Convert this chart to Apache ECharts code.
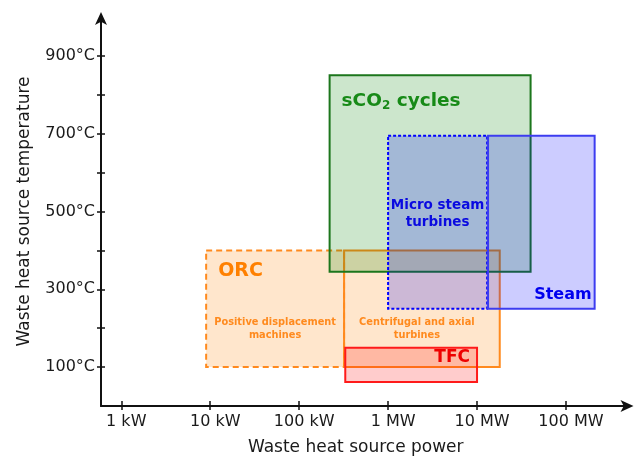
<!DOCTYPE html>
<html>
<head>
<meta charset="utf-8">
<script src="https://cdn.jsdelivr.net/npm/echarts@6/dist/echarts.min.js"></script>
<style>
  html, body { margin: 0; padding: 0; background: #fff; }
  #chart { width: 638px; height: 456px; }
</style>
</head>
<body>
<div id="chart"></div>
<script>
// operating windows: power in kW, temperature in °C
const technologies = ['ORC (positive displacement)', 'ORC (turbines)', 'sCO2 cycles', 'Micro steam turbines', 'Steam', 'TFC'];
const powerMin = [9, 320, 220, 1000, 13300, 330];
const powerMax = [320, 18000, 40000, 13000, 210000, 10000];
const tempMin = [100, 100, 345, 250, 250, 62];
const tempMax = [400, 400, 850, 695, 695, 150];

const xTickPowers = [1, 10, 100, 1000, 10000, 100000];
const xTickLabels = ['1 kW', '10 kW', '100 kW', '1 MW', '10 MW', '100 MW'];
const yTickValues = [100, 200, 300, 400, 500, 600, 700, 800, 900];
const yLabelValues = [100, 300, 500, 700, 900];

const FONT = "'DejaVu Sans', Verdana, sans-serif";
const AXIS_COLOR = '#111';
const TEXT_COLOR = '#1a1a1a';

const ORANGE = '#ff8a1e';
const boxStyles = [
  { fill: 'rgba(255,128,0,0.2)', stroke: ORANGE, dash: [6, 4] },
  { fill: 'rgba(255,128,0,0.2)', stroke: ORANGE },
  { fill: 'rgba(0,128,0,0.2)', stroke: '#1c761c' },
  { fill: 'rgba(0,0,255,0.2)', stroke: '#0000ff', dash: [3, 2] },
  { fill: 'rgba(0,0,255,0.2)', stroke: '#3c3cf0' },
  { fill: 'rgba(255,0,0,0.2)', stroke: '#ff1a1a' },
];

// labels placed relative to their box (anchor + pixel offset)
const boxLabels = [
  [
    { text: 'ORC', anchor: 'tl', dx: 12, dy: 21, size: 19, color: '#ff8000' },
    { text: 'Positive displacement\nmachines', anchor: 'c', dx: 0, dy: 20, size: 9.8, lh: 12.5, color: ORANGE },
  ],
  [{ text: 'Centrifugal and axial\nturbines', anchor: 'c', dx: -5, dy: 20, size: 9.8, lh: 12.5, color: ORANGE }],
  [{ text: '{a|sCO}{b|2}{a| cycles}', anchor: 'tl', dx: 12, dy: 26, size: 18.5, color: '#178a17', sub: true }],
  [{ text: 'Micro steam\nturbines', anchor: 'c', dx: 0, dy: -8, size: 13.5, lh: 17, color: '#0a0ae0' }],
  [{ text: 'Steam', anchor: 'br', dx: -3, dy: -14, size: 16, color: '#0000ee' }],
  [{ text: 'TFC', anchor: 'r', dx: -7, dy: -7, size: 17, color: '#ee0000' }],
];

const boxData = technologies.map((name, i) => ({
  name,
  value: [Math.log10(powerMin[i]), Math.log10(powerMax[i]), tempMin[i], tempMax[i]],
}));

function boxRect(api) {
  const p0 = api.coord([api.value(0), api.value(3)]);
  const p1 = api.coord([api.value(1), api.value(2)]);
  return { x: p0[0], y: p0[1], w: p1[0] - p0[0], h: p1[1] - p0[1] };
}

function renderBox(params, api) {
  const r = boxRect(api);
  const s = boxStyles[params.dataIndex];
  return {
    type: 'rect',
    shape: { x: r.x, y: r.y, width: r.w, height: r.h },
    style: { fill: s.fill, stroke: s.stroke, lineWidth: 2, lineDash: s.dash || null },
  };
}

function renderLabels(params, api) {
  const r = boxRect(api);
  const children = boxLabels[params.dataIndex].map(l => {
    let x, y, align;
    if (l.anchor === 'tl') { x = r.x + l.dx; y = r.y + l.dy; align = 'left'; }
    else if (l.anchor === 'c') { x = r.x + r.w / 2 + l.dx; y = r.y + r.h / 2 + l.dy; align = 'center'; }
    else if (l.anchor === 'br') { x = r.x + r.w + l.dx; y = r.y + r.h + l.dy; align = 'right'; }
    else { x = r.x + r.w + l.dx; y = r.y + r.h / 2 + l.dy; align = 'right'; }
    const style = {
      text: l.text,
      x, y,
      fill: l.color,
      font: `bold ${l.size}px ${FONT}`,
      align, textAlign: align,
      verticalAlign: 'middle', textVerticalAlign: 'middle',
      lineHeight: l.lh || l.size + 3,
    };
    if (l.sub) {
      style.rich = {
        a: { fill: l.color, fontSize: l.size, fontWeight: 'bold', fontFamily: FONT, lineHeight: 22 },
        b: { fill: l.color, fontSize: 12, fontWeight: 'bold', fontFamily: FONT, lineHeight: 12, verticalAlign: 'bottom' },
      };
    }
    return { type: 'text', style };
  });
  return { type: 'group', children };
}

const xMin = -0.228, xMax = 5.703;

const chart = echarts.init(document.getElementById('chart'));
chart.setOption({
  animation: false,
  backgroundColor: '#fff',
  grid: { left: 101, right: 9.5, top: 17, bottom: 50, outerBoundsMode: 'none', containLabel: false },
  xAxis: [
    {
      type: 'value', min: xMin, max: xMax, position: 'bottom',
      axisLine: { show: true, onZero: false, symbol: ['none', 'arrow'], symbolSize: [9, 13], symbolOffset: [0, 5],
        lineStyle: { color: AXIS_COLOR, width: 2 } },
      axisTick: { show: true, length: 4, customValues: xTickPowers.map(Math.log10),
        lineStyle: { color: AXIS_COLOR, width: 1.5 } },
      axisLabel: {
        customValues: xTickPowers.map(Math.log10),
        formatter: v => xTickLabels[xTickPowers.findIndex(p => Math.abs(Math.log10(p) - v) < 1e-6)] || '',
        margin: 8, fontSize: 16, color: TEXT_COLOR, fontFamily: FONT, padding: [0, 0, 0, 10],
      },
      splitLine: { show: false },
      name: 'Waste heat source power', nameLocation: 'middle', nameGap: 33,
      nameTextStyle: { fontSize: 17, color: TEXT_COLOR, fontFamily: FONT, padding: [0, 18, 0, 0] },
    },
    {
      type: 'value', min: xMin, max: xMax, position: 'bottom',
      axisLine: { show: false, onZero: false },
      axisTick: { show: true, inside: true, length: 5, customValues: xTickPowers.map(Math.log10),
        lineStyle: { color: AXIS_COLOR, width: 1.5 } },
      axisLabel: { show: false },
      splitLine: { show: false },
    },
  ],
  yAxis: [
    {
      type: 'value', min: 0, max: 1000, position: 'left',
      axisLine: { show: true, onZero: false, symbol: ['none', 'arrow'], symbolSize: [9, 13], symbolOffset: [0, 5],
        lineStyle: { color: AXIS_COLOR, width: 2 } },
      axisTick: { show: true, length: 4, customValues: yTickValues,
        lineStyle: { color: AXIS_COLOR, width: 1.5 } },
      axisLabel: {
        customValues: yLabelValues,
        formatter: v => v + '°C',
        margin: 6, fontSize: 16, color: TEXT_COLOR, fontFamily: FONT,
      },
      splitLine: { show: false },
      name: 'Waste heat source temperature', nameLocation: 'middle', nameGap: 68,
      nameTextStyle: { fontSize: 17, color: TEXT_COLOR, fontFamily: FONT },
    },
    {
      type: 'value', min: 0, max: 1000, position: 'left',
      axisLine: { show: false, onZero: false },
      axisTick: { show: true, inside: true, length: 4, customValues: yTickValues,
        lineStyle: { color: AXIS_COLOR, width: 1.5 } },
      axisLabel: { show: false },
      splitLine: { show: false },
    },
  ],
  series: [
    {
      type: 'custom', name: 'windows', renderItem: renderBox, data: boxData,
      encode: { x: [0, 1], y: [2, 3] }, z: 2,
    },
    {
      type: 'custom', name: 'labels', renderItem: renderLabels, data: boxData,
      encode: { x: [0, 1], y: [2, 3] }, z: 3, silent: true,
    },
  ],
});
</script>
</body>
</html>
